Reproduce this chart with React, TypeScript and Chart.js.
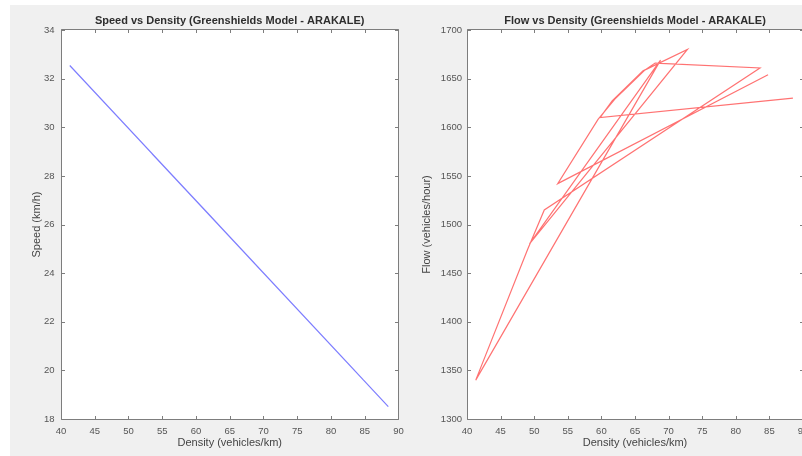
import React, { useEffect, useRef } from 'react';
import { Chart, registerables } from 'chart.js';

Chart.register(...registerables);

// ---- data (time order of observations) ----
const density = [84.8, 53.5, 59.5, 62.0, 66.5, 68.0, 83.6, 51.5, 49.0, 41.3, 68.8, 49.3, 72.8, 66.2, 61.6, 59.8, 88.5];
const speed = [19.61, 28.91, 27.13, 26.39, 25.05, 24.6, 19.97, 29.51, 30.25, 32.54, 24.37, 30.16, 23.18, 25.14, 26.51, 27.04, 18.51];
const flow = [1654, 1542, 1608, 1629, 1659, 1666, 1661, 1515, 1474, 1340, 1669, 1480, 1680, 1658, 1627, 1610, 1630];

// ---- axis ranges / ticks ----
const densityRange = [40, 90];
const densityStep = 5;
const speedRange = [18, 34];
const speedStep = 2;
const flowRange = [1300, 1700];
const flowStep = 50;

const speedTitle = 'Speed vs Density (Greenshields Model - ARAKALE)';
const flowTitle = 'Flow vs Density (Greenshields Model - ARAKALE)';
const xLabel = 'Density (vehicles/km)';
const speedLabel = 'Speed (km/h)';
const flowLabel = 'Flow (vehicles/hour)';

const FONT = '"Liberation Sans", Arial, Helvetica, sans-serif';

const matlabAxes = {
  id: 'matlabAxes',
  beforeDraw(chart: any) {
    const { ctx, chartArea: a } = chart;
    ctx.save();
    ctx.fillStyle = '#ffffff';
    ctx.fillRect(a.left, a.top, a.right - a.left, a.bottom - a.top);
    ctx.restore();
  },
  afterDraw(chart: any) {
    const { ctx, chartArea: a, scales } = chart;
    const xL = Math.round(a.left) + 0.5;
    const xR = Math.round(a.right) + 0.5;
    const yT = Math.round(a.top) - 0.5;
    const yB = Math.round(a.bottom) + 0.5;
    const tl = 3.5;
    ctx.save();
    ctx.strokeStyle = '#7d7d7d';
    ctx.lineWidth = 1;
    ctx.beginPath();
    ctx.rect(xL, yT, xR - xL, yB - yT);
    const xs = scales.x;
    xs.ticks.forEach((t: any) => {
      const p = Math.round(xs.getPixelForValue(t.value)) + 0.5;
      ctx.moveTo(p, yB);
      ctx.lineTo(p, yB - tl);
      ctx.moveTo(p, yT);
      ctx.lineTo(p, yT + tl);
    });
    const ys = scales.y;
    ys.ticks.forEach((t: any) => {
      const p = Math.round(ys.getPixelForValue(t.value)) + 0.5;
      ctx.moveTo(xL, p);
      ctx.lineTo(xL + tl, p);
      ctx.moveTo(xR, p);
      ctx.lineTo(xR - tl, p);
    });
    ctx.stroke();
    ctx.restore();
  },
};

const plainTick = (v: any) => String(v);

function buildConfig(o: {
  ys: number[];
  color: string;
  title: string;
  yLabel: string;
  yRange: number[];
  yStep: number;
  yWidth: number;
  yTitlePad: number;
  yTickPad: number;
  padRight: number;
}): any {
  const points = density.map((d, i) => ({ x: d, y: o.ys[i] }));
  return {
    type: 'scatter',
    data: {
      datasets: [
        {
          data: points,
          showLine: true,
          borderColor: o.color,
          borderWidth: 1.2,
          pointRadius: 0,
          pointHoverRadius: 0,
          fill: false,
          tension: 0,
        },
      ],
    },
    options: {
      animation: false,
      responsive: false,
      events: [],
      layout: { padding: { left: 0, right: o.padRight, top: 0, bottom: 0 } },
      plugins: {
        legend: { display: false },
        tooltip: { enabled: false },
        title: {
          display: true,
          text: o.title,
          fullSize: false,
          color: '#2e2e2e',
          font: { family: FONT, size: 11, weight: 'bold', lineHeight: 1.2 },
          padding: { top: 14, bottom: 2.8 },
        },
      },
      scales: {
        x: {
          type: 'linear',
          min: densityRange[0],
          max: densityRange[1],
          ticks: {
            stepSize: densityStep,
            autoSkip: false,
            maxRotation: 0,
            color: '#555555',
            font: { family: FONT, size: 9.5, lineHeight: 1.2 },
            padding: 6.3,
            callback: plainTick,
          },
          grid: { display: false, drawTicks: false },
          border: { display: false },
          title: {
            display: true,
            text: xLabel,
            color: '#444444',
            font: { family: FONT, size: 11, lineHeight: 1.2 },
            padding: { top: 0, bottom: 6.4 },
          },
          afterFit: (s: any) => {
            s.height = 37;
          },
        },
        y: {
          type: 'linear',
          min: o.yRange[0],
          max: o.yRange[1],
          ticks: {
            stepSize: o.yStep,
            autoSkip: false,
            color: '#555555',
            font: { family: FONT, size: 9.5, lineHeight: 1.2 },
            padding: o.yTickPad,
            callback: plainTick,
          },
          grid: { display: false, drawTicks: false },
          border: { display: false },
          title: {
            display: true,
            text: o.yLabel,
            color: '#444444',
            font: { family: FONT, size: 11, lineHeight: 1.2 },
            padding: { top: o.yTitlePad, bottom: 0 },
          },
          afterFit: (s: any) => {
            s.width = o.yWidth;
          },
        },
      },
    },
    plugins: [matlabAxes],
  };
}

export default function App() {
  const leftRef = useRef<HTMLCanvasElement>(null);
  const rightRef = useRef<HTMLCanvasElement>(null);

  useEffect(() => {
    const c1 = new Chart(
      leftRef.current as HTMLCanvasElement,
      buildConfig({
        ys: speed,
        color: 'rgba(40,40,255,0.6)',
        title: speedTitle,
        yLabel: speedLabel,
        yRange: speedRange,
        yStep: speedStep,
        yWidth: 61,
        yTitlePad: 30.4,
        yTickPad: 6.5,
        padRight: 11,
      })
    );
    const c2 = new Chart(
      rightRef.current as HTMLCanvasElement,
      buildConfig({
        ys: flow,
        color: 'rgba(255,20,20,0.6)',
        title: flowTitle,
        yLabel: flowLabel,
        yRange: flowRange,
        yStep: flowStep,
        yWidth: 67,
        yTitlePad: 20.4,
        yTickPad: 5,
        padRight: 27,
      })
    );
    return () => {
      c1.destroy();
      c2.destroy();
    };
  }, []);

  return (
    <div
      style={{
        position: 'fixed',
        left: 0,
        top: 0,
        width: 802,
        height: 456,
        background: '#ffffff',
        overflow: 'hidden',
      }}
    >
      <div style={{ position: 'absolute', left: 10, top: 5, right: 0, bottom: 0, background: '#f0f0f0' }} />
      <canvas ref={leftRef} width={410} height={456} style={{ position: 'absolute', left: 0, top: 0 }} />
      <canvas ref={rightRef} width={430} height={456} style={{ position: 'absolute', left: 400, top: 0 }} />
    </div>
  );
}
